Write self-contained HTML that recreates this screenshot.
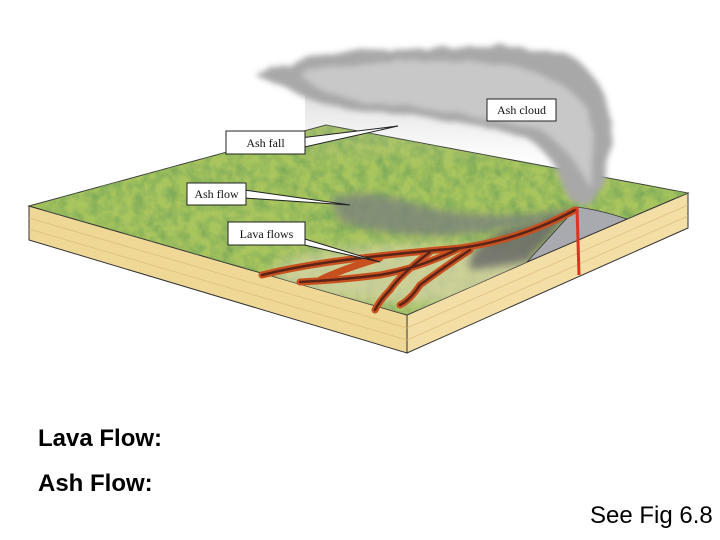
<!DOCTYPE html>
<html><head><meta charset="utf-8"><style>
html,body{margin:0;padding:0;background:#fff;}
body{width:720px;height:540px;position:relative;overflow:hidden;font-family:"Liberation Sans",Arial,sans-serif;}
.t{position:absolute;color:#000;}
</style></head><body>
<svg width="720" height="540" style="position:absolute;left:0;top:0">
<defs>
<filter id="tex" x="0" y="0" width="100%" height="100%">
<feTurbulence type="fractalNoise" baseFrequency="0.09" numOctaves="3" seed="3"/>
<feColorMatrix type="matrix" values="0 0 0 0 0.2  0 0 0 0 0.4  0 0 0 0 0.1  1.8 0 0 0 -0.6"/>
<feComposite in2="SourceGraphic" operator="in"/>
</filter>
<filter id="blur4" x="-50%" y="-50%" width="200%" height="200%"><feGaussianBlur stdDeviation="4"/></filter>
<filter id="blur8" x="-50%" y="-50%" width="200%" height="200%"><feGaussianBlur stdDeviation="7"/></filter>
<filter id="cloud" x="-20%" y="-20%" width="140%" height="140%">
<feTurbulence type="fractalNoise" baseFrequency="0.04" numOctaves="4" seed="7" result="n"/>
<feDisplacementMap in="SourceGraphic" in2="n" scale="10"/>
<feGaussianBlur stdDeviation="3"/>
</filter>
<linearGradient id="fall" x1="0" y1="0" x2="0" y2="1">
<stop offset="0" stop-color="#999" stop-opacity="0.7"/><stop offset="1" stop-color="#bbb" stop-opacity="0"/>
</linearGradient>
<clipPath id="topc"><polygon points="29,206 326,125 688,193 627,219 527,262 407,315"/></clipPath>
</defs>
<polygon points="29,206 407,315 407,353 29,240" fill="#efd796" stroke="#333" stroke-width="1"/>
<path d="M407,315 L527,262 L627,219 L688,193 L688,228 L407,353 Z" fill="#f3dea6" stroke="#333" stroke-width="1"/>
<g stroke="#d8b870" stroke-width="1" opacity="0.6">
<line x1="29" y1="218" x2="407" y2="328"/><line x1="29" y1="229" x2="407" y2="340"/>
<line x1="407" y1="328" x2="688" y2="205"/><line x1="407" y1="340" x2="688" y2="216"/>
</g>
<polygon points="29,206 326,125 688,193 627,219 527,262 407,315" fill="#a9c55e" stroke="#333" stroke-width="1"/>
<g clip-path="url(#topc)">
<rect x="0" y="100" width="720" height="240" fill="#7fa23a" filter="url(#tex)"/>
<ellipse cx="420" cy="275" rx="150" ry="30" fill="#ddd6b0" opacity="0.7" filter="url(#blur8)"/>
<path d="M577,207 L527,262 L470,270 Q465,240 530,222 Z" fill="#6a6a6a" opacity="0.85" filter="url(#blur4)"/>
<path d="M330,200 Q360,185 420,205 Q480,222 570,210 Q520,232 440,236 Q380,236 340,222 Z" fill="#7c847c" opacity="0.8" filter="url(#blur4)"/>
</g>
<path d="M577,207 Q600,210 627,219 L527,262 Z" fill="#a9a9b0" stroke="#333" stroke-width="0.8"/>
<rect x="305" y="72" width="270" height="95" fill="url(#fall)" opacity="0.6"/>
<g fill="none" stroke-linecap="round">
<g stroke="#c8501f" stroke-width="7">
<path d="M575,210 Q520,240 460,248 Q380,255 330,262 Q290,268 262,275"/>
<path d="M460,248 Q420,268 380,275 Q340,280 300,282"/>
<path d="M430,252 Q400,275 390,290 Q380,300 375,310"/>
<path d="M470,250 Q440,270 420,285 Q410,300 400,305"/>
<path d="M380,258 Q340,270 320,280"/>
</g>
<g stroke="#5a2418" stroke-width="2.5">
<path d="M575,210 Q520,240 460,248 Q380,255 330,262 Q290,268 262,275"/>
<path d="M460,248 Q420,268 380,275 Q340,280 300,282"/>
<path d="M430,252 Q400,275 390,290 Q380,300 375,310"/>
<path d="M470,250 Q440,270 420,285 Q410,300 400,305"/>
</g>
</g>
<line x1="577" y1="207" x2="579" y2="275" stroke="#e0321e" stroke-width="3"/>
<g filter="url(#cloud)">
<path d="M255,72 L290,68 Q330,45 420,50 Q520,40 575,58 Q608,85 612,130 Q614,178 590,205 Q570,208 562,185 Q552,150 520,135 Q460,120 400,115 Q330,110 300,95 Q280,82 255,75 Z" fill="#a8a8a8"/>
<path d="M300,74 Q380,58 480,62 Q560,70 588,110 Q598,150 588,185 Q572,150 540,130 Q470,112 380,104 Q320,96 300,74 Z" fill="#c8c8c8"/>
</g>
<g fill="#fff" stroke="#222" stroke-width="1">
<polygon points="300,138 398,126 300,148"/>
<rect x="226" y="131" width="79" height="23"/>
<polygon points="244,190 350,205 244,198"/>
<rect x="187" y="183" width="59" height="22"/>
<polygon points="295,236 380,262 300,244"/>
<rect x="228" y="222" width="77" height="23"/>
<rect x="487" y="99" width="69" height="22"/>
</g>
<g font-family="Liberation Serif,serif" font-size="12" fill="#111" text-anchor="middle">
<text x="265.5" y="147">Ash fall</text>
<text x="216.5" y="198">Ash flow</text>
<text x="266.5" y="238">Lava flows</text>
<text x="521.5" y="114">Ash cloud</text>
</g>
</svg>
<div class="t" style="left:38px;top:425px;font-size:24px;font-weight:bold;">Lava Flow:</div>
<div class="t" style="left:38px;top:470px;font-size:24px;font-weight:bold;">Ash Flow:</div>
<div class="t" style="left:590px;top:502px;font-size:24px;">See Fig 6.8</div>
</body></html>
